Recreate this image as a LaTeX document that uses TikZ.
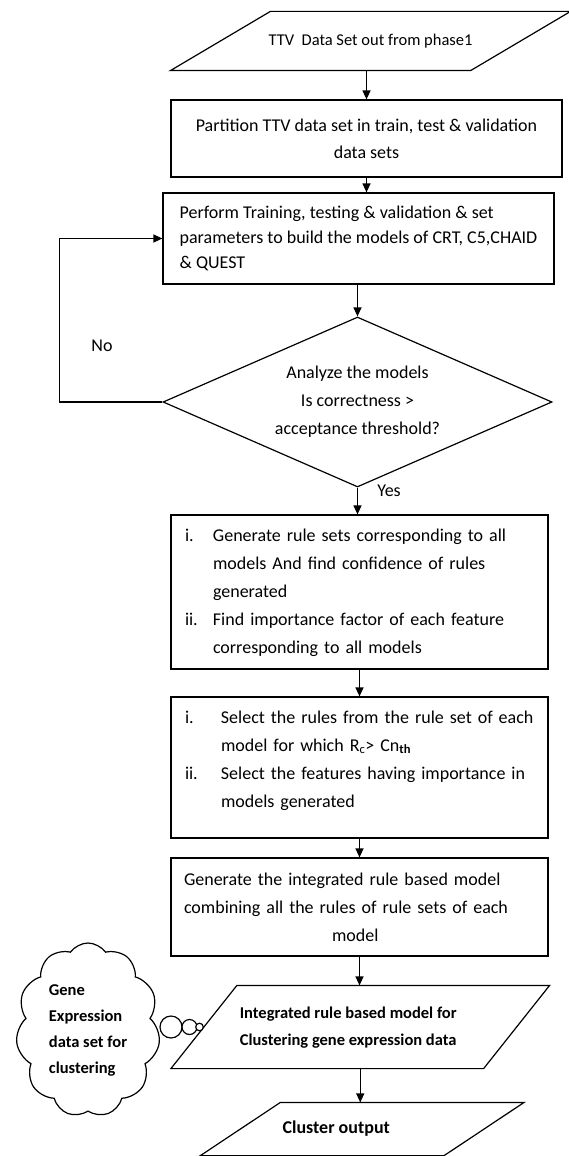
\documentclass[tikz,border=0pt]{standalone}
\usepackage{fontspec}
\setmainfont{Carlito}
\usepackage{tikz}
\usetikzlibrary{shapes.geometric,shapes.symbols,arrows.meta}

\newcommand{\paraframe}[2]{%
	\draw ([xshift=#2pt]#1.north west) -- ([xshift=#2pt]#1.north east) -- ([xshift=-#2pt]#1.south east) -- ([xshift=-#2pt]#1.south west) -- cycle;}

\begin{document}
\begin{tikzpicture}[x=1pt,y=-1pt,line width=1.2pt,font=\fontsize{18}{28}\selectfont,
		box/.style={draw,rectangle,inner sep=0pt},
		io/.style={rectangle,inner sep=0pt},
		arr/.style={-{Triangle[length=9pt,width=8pt]}}]
			\useasboundingbox (0,0) rectangle (569,1156);
			
			\node[io,minimum width=299pt,minimum height=58pt,font=\fontsize{16.5}{24}\selectfont] (p1) at (370.5,41) {TTV\ \ Data Set out from phase1};
			\paraframe{p1}{50}
			
			\node[box,minimum width=391pt,minimum height=77pt,align=center,font=\fontsize{18}{27}\selectfont] (b2) at (366.5,138.5) {Partition TTV data set in train, test \& validation\\data sets};
			
			\node[box,minimum width=391pt,minimum height=91pt,align=left,font=\fontsize{18}{25}\selectfont] (b3) at (358.5,238.5) {Perform Training, testing \& validation \& set\\parameters to build the models of CRT, C5,CHAID\\\& QUEST};
			
			\node[diamond,draw,aspect=2.29,minimum width=389pt,minimum height=170pt,inner sep=0pt,align=center] (d) at (357.5,402) {Analyze the models\\Is correctness >\\acceptance threshold?};
			
			\node[box,minimum width=377pt,minimum height=154pt,text width=349pt,inner xsep=14pt,align=left] (b4) at (359.5,592) {\begin{tabular}{@{}p{28pt}@{}l@{}}
					i. & Generate rule sets corresponding to all\\
					& models And find confidence of rules\\
					& generated\\
					ii. & Find importance factor of each feature\\
					& corresponding to all models
				\end{tabular}};
			
			\node[box,minimum width=377pt,minimum height=141pt,text width=349pt,inner xsep=14pt,align=left] (b5) at (359.5,767.5) {\begin{tabular}{@{}p{36pt}@{}l@{}}
					i. & Select the rules from the rule set of each\\
					& model for which R\textsubscript{c}> Cn\textsubscript{\textbf{th}}\\
					ii. & Select the features having importance in\\
					& models generated\\[-12pt]
					&
				\end{tabular}};
			
			\node[box,minimum width=377pt,minimum height=98pt,text width=351pt,inner xsep=13pt,align=left] (b6) at (359.5,907) {Generate the integrated rule based model\\combining all the rules of rule sets of each\\\hspace*{148pt}model};
			
			\node[io,minimum width=311.5pt,minimum height=82pt,font=\bfseries\fontsize{16.5}{27}\selectfont] (p2) at (360.25,1027) {\hspace*{-24pt}\begin{tabular}{@{}l@{}}Integrated rule based model for\\Clustering gene expression data\end{tabular}};
			\paraframe{p2}{33}
			
			\node[io,minimum width=242.5pt,minimum height=52pt,font=\bfseries\fontsize{18}{27}\selectfont] (p3) at (362.25,1129) {\hspace*{-52pt}Cluster output};
			\paraframe{p3}{40}
			
			\node[cloud,draw,cloud puffs=11,cloud puff arc=110,cloud ignores aspect,minimum width=144pt,minimum height=174pt,inner sep=0pt,align=left,font=\bfseries\fontsize{16.5}{26}\selectfont] (gene) at (88,1030) {Gene\\Expression\\data set for\\clustering};
			\foreach \cx/\cr [count=\i] in {171/11,189.5/7.5,199.5/3.8}
			\node[draw,circle,fill=white,inner sep=0pt,minimum size=2*\cr] (bub\i) at (\cx,1027) {};
			
			\node (no) at (102,346) {No};
			\node (yes) at (389,491) {Yes};
			
			\draw[arr] (b2.north |- p1.south) -- (b2.north);
			\draw[arr] (b2.south) -- (b2.south |- b3.north);
			\draw[arr] (d.north |- b3.south) -- (d.north);
			\draw[arr] (d.south) -- (d.south |- b4.north);
			\draw[arr] (b4) -- (b5);
			\draw[arr] (b5) -- (b6);
			\draw[arr] (b6.south) -- (b6.south |- p2.north);
			\draw[arr] (p2.south) -- (p2.south |- p3.north);
			\draw[arr] (d.west) -- ++(-103,0) |- (b3.west);
\end{tikzpicture}
\end{document}
